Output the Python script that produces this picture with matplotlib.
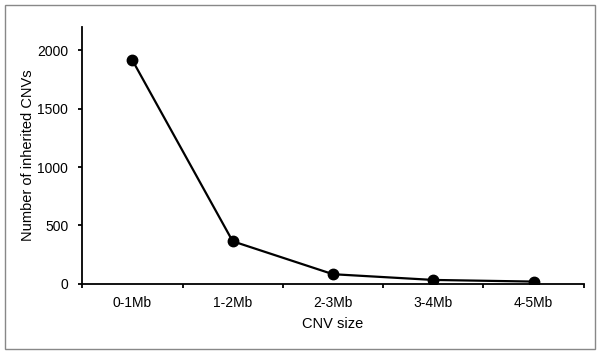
import matplotlib
matplotlib.use('Agg')
import matplotlib.pyplot as plt
from matplotlib.patches import Rectangle

plt.rcParams['font.family'] = ['Liberation Sans', 'DejaVu Sans']

categories = ['0-1Mb', '1-2Mb', '2-3Mb', '3-4Mb', '4-5Mb']
inherited_cnvs = [1915, 365, 83, 34, 20]

fig = plt.figure(figsize=(6, 3.54), dpi=100)
ax = fig.add_axes([0.137, 0.198, 0.836, 0.726])

# grey frame around the whole figure
fig.patches.append(Rectangle((5 / 600, 5 / 354), 590 / 600, 344 / 354,
                             transform=fig.transFigure, fill=False,
                             edgecolor='#888888', linewidth=1))

x = list(range(len(categories)))
ax.plot(x, inherited_cnvs, color='black', linewidth=1.6,
        marker='o', markersize=7.5)

ax.set_xlim(-0.5, len(categories) - 0.5)
ax.set_ylim(0, 2200)
ax.set_yticks([0, 500, 1000, 1500, 2000])
ax.set_xticks(x)
ax.set_xticklabels(categories)
ax.set_xticks([i - 0.5 for i in range(len(categories) + 1)], minor=True)
ax.tick_params(axis='x', which='major', length=0, pad=9, labelsize=10)
ax.tick_params(axis='x', which='minor', length=3, width=1.3, direction='out')
ax.tick_params(axis='y', length=3, width=1.3, direction='out', labelsize=10, pad=7)

for side in ['top', 'right']:
    ax.spines[side].set_visible(False)
for side in ['left', 'bottom']:
    ax.spines[side].set_linewidth(1.3)

ax.set_xlabel('CNV size', fontsize=10.5, labelpad=5)
ax.set_ylabel('Number of inherited CNVs', fontsize=10.5)
ax.yaxis.set_label_coords(-0.094, 0.5)

plt.savefig('out.png', dpi=100)
